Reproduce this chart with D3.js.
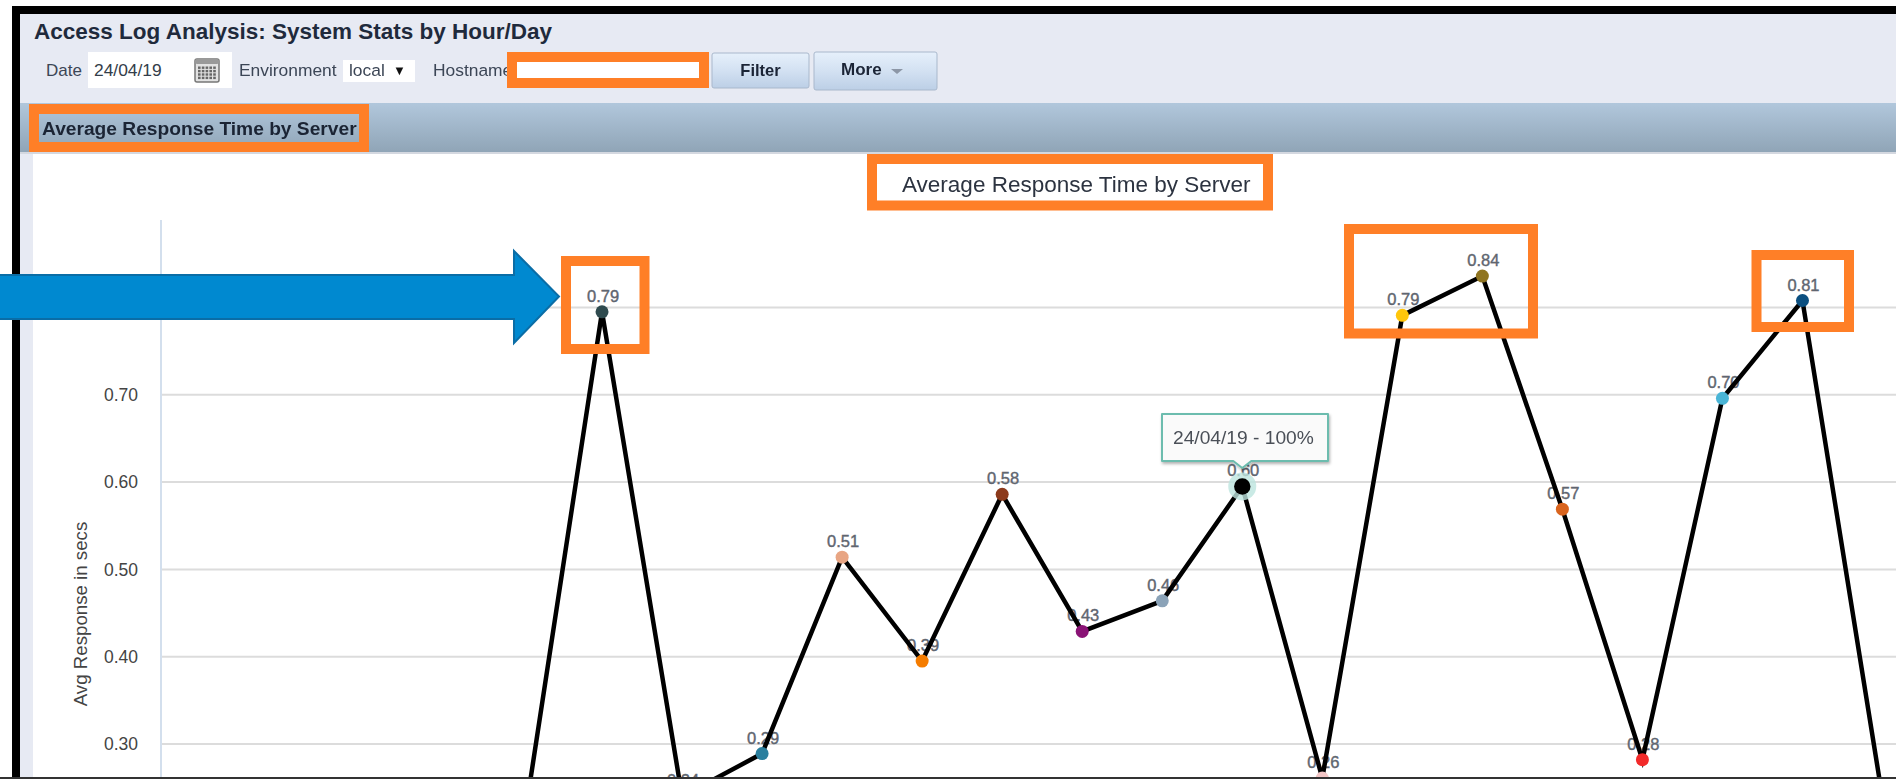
<!DOCTYPE html>
<html>
<head>
<meta charset="utf-8">
<title>Average Response Time by Server</title>
<script src="https://cdn.jsdelivr.net/npm/d3@7"></script>
<style>
  html, body { margin: 0; padding: 0; background: #fff; overflow: hidden; }
  svg { display: block; filter: blur(0.7px); font-family: "Liberation Sans", Arial, sans-serif; }
</style>
</head>
<body>
<div id="chart"></div>
<script>
// values, first and last points sit below the crop so they have no readable label
const pointIndex = [0, 1, 2, 3, 4, 5, 6, 7, 8, 9, 10, 11, 12, 13, 14, 15, 16, 17];
const responseSecs = [0.196, 0.795, 0.24, 0.289, 0.514, 0.395, 0.586, 0.429, 0.464, 0.595, 0.261, 0.791, 0.836, 0.569, 0.282, 0.696, 0.808, 0.238];
const pointLabels = [null, "0.79", "0.24", "0.29", "0.51", "0.39", "0.58", "0.43", "0.46", "0.60", "0.26", "0.79", "0.84", "0.57", "0.28", "0.70", "0.81", null];
const pointColors = ["#7a5c99", "#2f4b4f", "#c9a227", "#2b7f9e", "#e8a583", "#f57c00", "#8c3a1c", "#8a1376", "#8ba3b8", "#000000", "#f3c6c6", "#ffc60b", "#8f7420", "#d9641e", "#f22a2a", "#4ab5d6", "#0b4f80", "#5c8a3a"];
const yTicks = [0.3, 0.4, 0.5, 0.6, 0.7, 0.8];
const highlighted = 9;

const W = 1896, H = 779;
const ORANGE = "#ff7f27";

const svg = d3.select("#chart").append("svg").attr("width", W).attr("height", H);

function box(x, y, w, h, fill) {
    return svg.append("rect").attr("x", x).attr("y", y).attr("width", w).attr("height", h).attr("fill", fill);
}
function label(x, y, str, size, color, weight) {
    return svg.append("text").attr("x", x).attr("y", y)
        .attr("font-size", size + "px").attr("fill", color)
        .attr("font-weight", weight || "normal").text(str);
}
function orangeBox(x, y, w, h) {
    svg.append("rect").attr("x", x).attr("y", y).attr("width", w).attr("height", h)
        .attr("fill", "none").attr("stroke", ORANGE).attr("stroke-width", 10);
}

// gradients for the section bar and the buttons
const defs = svg.append("defs");
function gradient(id, stops) {
    const g = defs.append("linearGradient").attr("id", id).attr("x1", 0).attr("y1", 0).attr("x2", 0).attr("y2", 1);
    stops.forEach(s => g.append("stop").attr("offset", s[0]).attr("stop-color", s[1]));
}
gradient("barGrad", [[0, "#b1c7dc"], [1, "#8fa4b6"]]);
gradient("btnGrad", [[0, "#e6f0fb"], [0.5, "#d3e1f2"], [1, "#bccfe6"]]);
const shadow = defs.append("filter").attr("id", "tipShadow").attr("x", "-10%").attr("y", "-20%").attr("width", "125%").attr("height", "150%");
shadow.append("feDropShadow").attr("dx", 1).attr("dy", 2).attr("stdDeviation", 1.5).attr("flood-color", "#000").attr("flood-opacity", 0.3);

// page frame and toolbar
box(20, 14, W - 20, 140, "#e7eaf3");
box(20, 154, 13, H - 154, "#e7eaf3");
box(33, 154, W - 33, H - 154, "#fff");
box(12, 6, W - 12, 8, "#000");
box(12, 6, 8, H - 6, "#000");

label(34, 39, "Access Log Analysis: System Stats by Hour/Day", 22.5, "#1f2a3c", "bold");

label(46, 76, "Date", 17, "#3c4656");
box(88, 52, 144, 36, "#fff");
label(94, 76, "24/04/19", 17.4, "#333d4a");

// calendar icon
const cal = svg.append("g").attr("transform", "translate(195,59)");
cal.append("rect").attr("width", 24).attr("height", 23).attr("rx", 2).attr("fill", "#e2e2e2").attr("stroke", "#777").attr("stroke-width", 1.5);
cal.append("rect").attr("width", 24).attr("height", 5).attr("rx", 2).attr("fill", "#999");
d3.range(4).forEach(r => d3.range(5).forEach(c => {
    cal.append("rect").attr("x", 3 + c * 3.8).attr("y", 7.5 + r * 3.4).attr("width", 2.6).attr("height", 2.4).attr("fill", "#666");
}));

label(239, 76, "Environment", 17.4, "#3c4656");
box(343, 60, 72, 22, "#fff");
label(349, 76, "local", 17.4, "#3c4656");
label(393, 75, "▼", 13, "#111");

label(433, 76, "Hostname", 17.4, "#3c4656");
box(512, 57, 192, 26, "#fff");
orangeBox(512, 57, 192, 26);

// buttons
box(712, 53, 97, 35, "url(#btnGrad)").attr("rx", 2).attr("stroke", "#a9b8cc");
label(760.5, 76, "Filter", 16.5, "#1b2436", "bold").attr("text-anchor", "middle");
box(814, 52, 123, 38, "url(#btnGrad)").attr("rx", 2).attr("stroke", "#a9b8cc");
label(841, 75, "More", 17, "#1b2436", "bold");
svg.append("path").attr("d", "M891,69h12l-6,5z").attr("fill", "#8c96a6");

// section bar
box(20, 103, W - 20, 50, "url(#barGrad)");
box(20, 152, W - 20, 2, "#d4d8e0");
label(42, 135, "Average Response Time by Server", 19.2, "#1b2434", "bold");
orangeBox(34, 109, 330, 38);

// chart title
label(902, 192, "Average Response Time by Server", 22.5, "#2c3340");
orangeBox(872, 159, 396, 46.5);

// scales
const x = d3.scalePoint().domain(pointIndex).range([522, 1882.5]);
const y = d3.scaleLinear().domain([0.3, 0.8]).range([744, 307.5]);

// axis and grid
const yAxis = svg.append("g").attr("transform", "translate(161,0)")
    .call(d3.axisLeft(y).tickValues(yTicks).tickFormat(d3.format(".2f")).tickSize(0).tickPadding(23));
yAxis.select(".domain").remove();
yAxis.selectAll("text").attr("font-size", "17.5px").attr("font-family", "inherit").attr("fill", "#444");
svg.append("g").selectAll("line").data(yTicks).join("line")
    .attr("x1", 161).attr("x2", W)
    .attr("y1", d => y(d)).attr("y2", d => y(d))
    .attr("stroke", "#dcdcdc").attr("stroke-width", 2);
svg.append("line").attr("x1", 161).attr("x2", 161).attr("y1", 220).attr("y2", H)
    .attr("stroke", "#d3dfed").attr("stroke-width", 2);

svg.append("text")
    .attr("transform", "translate(87,614) rotate(-90)")
    .attr("text-anchor", "middle").attr("font-size", "18.7px").attr("fill", "#444")
    .text("Avg Response in secs");

const points = pointIndex.map((d, i) => ({ i: d, v: responseSecs[i], label: pointLabels[i], color: pointColors[i] }));

// value labels
svg.append("g").selectAll("text").data(points.filter(d => d.label)).join("text")
    .attr("x", d => x(d.i) + 1)
    .attr("y", d => y(d.v) - 10)
    .attr("text-anchor", "middle")
    .attr("font-size", "16.5px").attr("fill", "#5f6670")
    .attr("stroke", "#5f6670").attr("stroke-width", 0.4)
    .text(d => d.label);

// line and dots
const line = d3.line().x(d => x(d.i)).y(d => y(d.v));
svg.append("path").datum(points)
    .attr("fill", "none").attr("stroke", "#000").attr("stroke-width", 4.5).attr("d", line);

svg.append("circle")
    .attr("cx", x(highlighted)).attr("cy", y(responseSecs[highlighted])).attr("r", 14)
    .attr("fill", "#bde5de").attr("opacity", 0.8);
svg.append("g").selectAll("circle").data(points).join("circle")
    .attr("cx", d => x(d.i)).attr("cy", d => y(d.v))
    .attr("r", d => d.i === highlighted ? 8.2 : 6.5)
    .attr("fill", d => d.color);

// tooltip on the highlighted point
const tipX = x(highlighted);
svg.append("path")
    .attr("d", `M1162,414H1328V461H${tipX + 9}L${tipX},468L${tipX - 9},461H1162Z`)
    .attr("fill", "#fafafa").attr("stroke", "#6cbcae").attr("stroke-width", 2)
    .attr("stroke-linejoin", "round").attr("filter", "url(#tipShadow)");
label(1173, 444, "24/04/19 - 100%", 19.2, "#4a4f57");

// annotations on top
orangeBox(566, 261, 78.5, 88);
orangeBox(1349, 229, 184, 104.5);
orangeBox(1756.5, 255, 92.5, 72);

svg.append("path")
    .attr("d", "M-5,275H514V251L559,296.5L514,343V319H-5Z")
    .attr("fill", "#0089d0").attr("stroke", "#0a6da6").attr("stroke-width", 2);

box(0, 777, W, 2, "#333");
</script>
</body>
</html>
